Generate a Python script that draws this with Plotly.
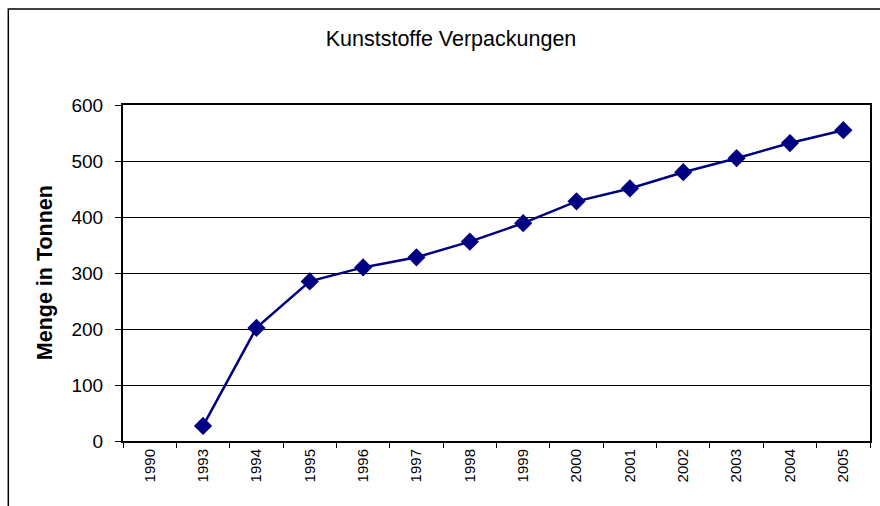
import plotly.graph_objects as go

years = ["1990", "1993", "1994", "1995", "1996", "1997", "1998", "1999",
         "2000", "2001", "2002", "2003", "2004", "2005"]
mengen = [None, 27, 202, 285, 310, 328, 356, 389, 428, 451, 480, 505, 532, 555]
y_ticks = [0, 100, 200, 300, 400, 500, 600]

W, H = 880, 506
L, R, T, B = 123, 8, 105, 65
pw, ph = W - L - R, H - T - B

def px_x(x):
    return (x - L) / pw

def px_y(y):
    return (H - B - y) / ph

fig = go.Figure()
fig.add_trace(go.Scatter(
    x=years, y=mengen, mode="lines+markers",
    line=dict(color="#000080", width=2.5),
    marker=dict(symbol="diamond", size=14, color="#000080"),
    connectgaps=False, showlegend=False,
))

fig.update_layout(
    width=W, height=H,
    margin=dict(l=L, r=R, t=T, b=B),
    paper_bgcolor="white", plot_bgcolor="white",
    font=dict(family="Liberation Sans, Arial, sans-serif", color="black"),
    title=dict(text="Kunststoffe Verpackungen", xref="container", yref="container",
               x=451 / W, y=1 - 38 / H, xanchor="center", yanchor="middle",
               font=dict(size=21.5, color="black")),
    xaxis=dict(type="category", categoryorder="array", categoryarray=years,
               showline=True, linecolor="black", linewidth=2, mirror=True,
               ticks="outside", tickson="boundaries", ticklen=5, tickcolor="black",
               tickangle=-90, tickfont=dict(size=15), showgrid=False,
               range=[-0.5, len(years) - 0.5]),
    yaxis=dict(range=[0, 600], tickvals=y_ticks, showline=True, linecolor="black",
               linewidth=2, mirror=True, ticks="outside", ticklen=6, tickcolor="black",
               tickfont=dict(size=19), showgrid=True, gridcolor="black", gridwidth=1,
               zeroline=False, ticklabelstandoff=8),
    annotations=[dict(text="<b>Menge in Tonnen</b>", xref="paper", yref="paper",
                      x=px_x(45), y=px_y(273), textangle=-90, showarrow=False,
                      font=dict(size=21.5, color="black"),
                      xanchor="center", yanchor="middle")],
    shapes=[dict(type="rect", xref="paper", yref="paper",
                 x0=px_x(8), x1=px_x(900), y0=px_y(530), y1=px_y(9),
                 line=dict(color="black", width=1.5), layer="below")],
)

fig.write_html("out.html", config={"displayModeBar": False},
               post_script="document.body.style.margin='0';document.body.style.padding='0';")
